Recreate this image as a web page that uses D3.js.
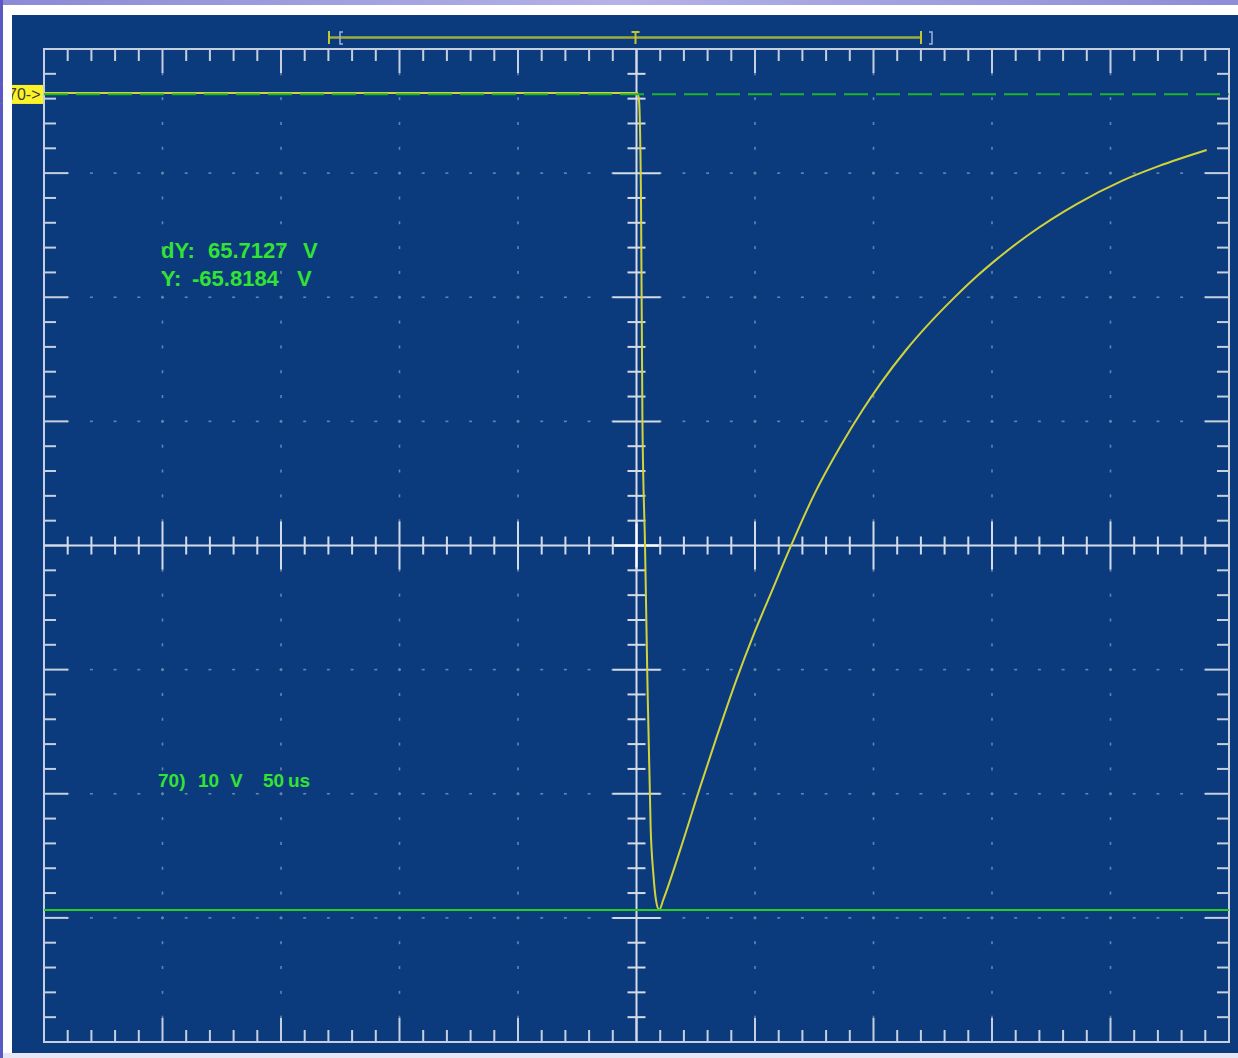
<!DOCTYPE html>
<html>
<head>
<meta charset="utf-8">
<script src="https://cdn.jsdelivr.net/npm/d3@7"></script>
<style>
  html, body { margin: 0; padding: 0; background: #ffffff; }
  svg { display: block; }
</style>
</head>
<body>
<svg id="scope" width="1238" height="1058"></svg>
<script>
// Captured waveform: time after trigger (µs) and channel voltage (V)
const timeUs = [-250, -125, 0, 0.4, 1.05, 1.9, 2.5, 3.6, 4.6, 6.0, 7.1, 8.2, 9.6, 11.3, 18.4, 26.8, 33.8, 42.3, 49.3, 56.3, 64.8, 75.1, 86.1, 95.4, 103.0, 114.0, 121.7, 134.3, 143.7, 152.3, 165.6, 185.9, 204.6, 220.3, 240.6];
const volts  = [0, 0, 0, 0, -0.56, -8.6, -26.3, -36.5, -47.3, -59.4, -62.9, -65.0, -65.82, -65.0, -61.0, -55.95, -51.9, -47.2, -43.7, -40.5, -36.65, -32.3, -28.45, -25.55, -23.4, -20.65, -18.95, -16.45, -14.75, -13.35, -11.4, -8.93, -7.1, -5.9, -4.6];

// Cursor readouts
const cursorY = -65.8184;
const cursorDY = 65.7127;

// Channel settings
const channelName = "70)";
const voltsPerDiv = 10;   // V / div
const timePerDiv = 50;    // µs / div
const hDivs = 10, vDivs = 8, minorPerDiv = 5;
const zeroMarker = "70->";

// Readout text lines
const readoutLines = [
  ["dY:", cursorDY.toFixed(4), "V"],
  ["Y:", cursorY.toFixed(4), "V"]
];
const settingsLine = [channelName, "10", "V", "50", "us"];

// Screen geometry
const scrLeft = 44, scrRight = 1229, scrTop = 49, scrBottom = 1042;
const zeroOffsetDiv = 3.646;   // divisions between screen centre and the 0 V marker

const svg = d3.select("#scope");

// Page frame
svg.append("rect").attr("x", 0).attr("y", 0).attr("width", 1238).attr("height", 1058).attr("fill", "#ffffff");
const grad = svg.append("defs").append("linearGradient").attr("id", "band").attr("x1", 0).attr("x2", 1);
grad.append("stop").attr("offset", 0).attr("stop-color", "#8c89d6");
grad.append("stop").attr("offset", 0.5).attr("stop-color", "#b4b2e6");
grad.append("stop").attr("offset", 1).attr("stop-color", "#8f8cd8");
svg.append("rect").attr("x", 0).attr("y", 0).attr("width", 1238).attr("height", 5).attr("fill", "url(#band)");
svg.append("rect").attr("x", 0).attr("y", 0).attr("width", 3).attr("height", 1058).attr("fill", "#5a58c4");
svg.append("rect").attr("x", 3).attr("y", 1053).attr("width", 1235).attr("height", 5).attr("fill", "#e6e6f4");

// Screen background
svg.append("rect").attr("x", 12).attr("y", 15).attr("width", 1226).attr("height", 1038).attr("fill", "#0b3b7c");

// Scales
const halfT = hDivs / 2 * timePerDiv;
const x = d3.scaleLinear().domain([-halfT, halfT]).range([scrLeft, scrRight]);
const vCenter = -zeroOffsetDiv * voltsPerDiv;
const y = d3.scaleLinear()
  .domain([vCenter - vDivs / 2 * voltsPerDiv, vCenter + vDivs / 2 * voltsPerDiv])
  .range([scrBottom, scrTop]);

const xMajor = d3.range(-halfT, halfT + 0.001, timePerDiv);
const xMinor = d3.range(-halfT, halfT + 0.001, timePerDiv / minorPerDiv);
const yLo = y.domain()[0];
const yMajor = d3.range(0, vDivs + 0.001).map(i => yLo + i * voltsPerDiv);
const yMinor = d3.range(0, vDivs * minorPerDiv + 0.001).map(i => yLo + i * voltsPerDiv / minorPerDiv);

const gridCol = "#c6cfdf";
const g = svg.append("g");

// Dotted graticule at each division
const dots = g.append("g").attr("fill", "#8ea3c6").attr("opacity", 0.7);
xMajor.slice(1, -1).forEach(t => {
  yMinor.slice(1, -1).forEach(v => {
    dots.append("rect").attr("x", x(t) - 0.8).attr("y", y(v) - 1.5).attr("width", 1.6).attr("height", 3);
  });
});
yMajor.slice(1, -1).forEach(v => {
  xMinor.slice(1, -1).forEach(t => {
    dots.append("rect").attr("x", x(t) - 1.5).attr("y", y(v) - 0.8).attr("width", 3).attr("height", 1.6);
  });
});

// Outer border
g.append("rect").attr("x", scrLeft).attr("y", scrTop).attr("width", scrRight - scrLeft).attr("height", scrBottom - scrTop)
  .attr("fill", "none").attr("stroke", gridCol).attr("stroke-width", 2);

const ticks = g.append("g").attr("stroke", gridCol).attr("stroke-width", 2);
const isMajorT = t => Math.abs(t / timePerDiv - Math.round(t / timePerDiv)) < 1e-6;
const isMajorV = v => Math.abs((v - yLo) / voltsPerDiv - Math.round((v - yLo) / voltsPerDiv)) < 1e-6;

// Border ticks
xMinor.slice(1, -1).forEach(t => {
  const len = isMajorT(t) ? 24 : 12;
  ticks.append("line").attr("x1", x(t)).attr("x2", x(t)).attr("y1", scrTop).attr("y2", scrTop + len);
  ticks.append("line").attr("x1", x(t)).attr("x2", x(t)).attr("y1", scrBottom).attr("y2", scrBottom - len);
});
yMinor.slice(1, -1).forEach(v => {
  const len = isMajorV(v) ? 24 : 12;
  ticks.append("line").attr("y1", y(v)).attr("y2", y(v)).attr("x1", scrLeft).attr("x2", scrLeft + len);
  ticks.append("line").attr("y1", y(v)).attr("y2", y(v)).attr("x1", scrRight).attr("x2", scrRight - len);
});

// Centre cross with its own ticks
const cx = x(0), cy = y(vCenter);
const centre = g.append("g").attr("stroke", "#d4dbe8").attr("stroke-width", 2);
centre.append("line").attr("x1", scrLeft).attr("x2", scrRight).attr("y1", cy).attr("y2", cy);
centre.append("line").attr("x1", cx).attr("x2", cx).attr("y1", scrTop).attr("y2", scrBottom);
xMinor.slice(1, -1).forEach(t => {
  const len = isMajorT(t) ? 24 : 9;
  centre.append("line").attr("x1", x(t)).attr("x2", x(t)).attr("y1", cy - len).attr("y2", cy + len);
});
yMinor.slice(1, -1).forEach(v => {
  const len = isMajorV(v) ? 24 : 9;
  centre.append("line").attr("y1", y(v)).attr("y2", y(v)).attr("x1", cx - len).attr("x2", cx + len);
});
centre.append("line").attr("x1", cx - 22).attr("x2", cx + 22).attr("y1", cy).attr("y2", cy).attr("stroke", "#ffffff");
centre.append("line").attr("x1", cx).attr("x2", cx).attr("y1", cy - 22).attr("y2", cy + 22).attr("stroke", "#ffffff");

// Waveform
const trace = d3.zip(timeUs, volts);
const line = d3.line().x(d => x(d[0])).y(d => y(d[1])).curve(d3.curveMonotoneX);
svg.append("path").datum(trace).attr("d", line)
  .attr("fill", "none").attr("stroke", "#d2d33a").attr("stroke-width", 2).attr("stroke-linejoin", "round");

// Cursors: absolute level and the delta reference
svg.append("line").attr("x1", scrLeft).attr("x2", scrRight).attr("y1", y(cursorY)).attr("y2", y(cursorY))
  .attr("stroke", "#25d025").attr("stroke-width", 2);
svg.append("line").attr("x1", scrLeft).attr("x2", scrRight)
  .attr("y1", y(cursorY + cursorDY)).attr("y2", y(cursorY + cursorDY))
  .attr("stroke", "#1fb52a").attr("stroke-width", 2.2).attr("stroke-dasharray", "24,8");

// Ground-level marker
svg.append("rect").attr("x", 12).attr("y", y(0) - 8).attr("width", 31).attr("height", 19).attr("fill", "#fbf22a");
svg.append("text").attr("x", 8).attr("y", y(0) + 7).text(zeroMarker)
  .attr("font-family", "Liberation Sans, Arial, sans-serif").attr("font-size", 16).attr("fill", "#3a3a30");
svg.append("rect").attr("x", 0).attr("y", y(0) - 8).attr("width", 12).attr("height", 19).attr("fill", "#ffffff");
svg.append("rect").attr("x", 0).attr("y", y(0) - 8).attr("width", 3).attr("height", 19).attr("fill", "#5a58c4");

// Horizontal position / record bar at the top
const barY = 37.5;
const bar = svg.append("g");
bar.append("line").attr("x1", 329).attr("x2", 921).attr("y1", barY).attr("y2", barY).attr("stroke", "#9fae38").attr("stroke-width", 2.5);
[329, 921].forEach(px => bar.append("line").attr("x1", px).attr("x2", px).attr("y1", 31).attr("y2", 44).attr("stroke", "#c0c830").attr("stroke-width", 2));
bar.append("path").attr("d", "M343,32 h-3 v12 h3").attr("fill", "none").attr("stroke", "#9fb4d6").attr("stroke-width", 1.5);
bar.append("path").attr("d", "M929,32 h3 v12 h-3").attr("fill", "none").attr("stroke", "#9fb4d6").attr("stroke-width", 1.5);
bar.append("line").attr("x1", cx - 1).attr("x2", cx - 1).attr("y1", 31).attr("y2", 44).attr("stroke", "#c0c830").attr("stroke-width", 2);
bar.append("line").attr("x1", cx - 5).attr("x2", cx + 3).attr("y1", 32).attr("y2", 32).attr("stroke", "#c0c830").attr("stroke-width", 2);

// Readouts
const txtCol = "#33e333";
const font = "Liberation Sans, Arial, sans-serif";
const readoutX = [[161, 208, 303], [161, 192, 297]];
readoutLines.forEach((parts, i) => {
  const t = svg.append("text").attr("y", 258 + i * 28).attr("font-family", font).attr("font-weight", "bold")
    .attr("font-size", 22).attr("fill", txtCol);
  parts.forEach((p, j) => t.append("tspan").attr("x", readoutX[i][j]).text(p));
});
const settingsX = [158, 198, 230, 263, 288];
const st = svg.append("text").attr("y", 787).attr("font-family", font).attr("font-weight", "bold")
  .attr("font-size", 19).attr("fill", txtCol);
settingsLine.forEach((p, j) => st.append("tspan").attr("x", settingsX[j]).text(p));
</script>
</body>
</html>
